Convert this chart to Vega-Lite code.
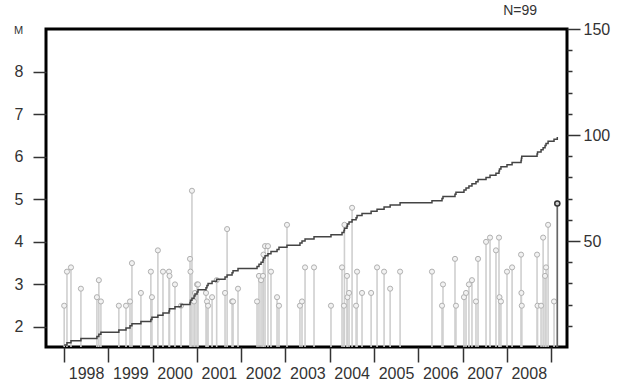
{
  "$schema": "https://vega.github.io/schema/vega-lite/v6.json",
  "width": 521,
  "height": 318,
  "autosize": "none",
  "padding": {"left": 46, "top": 29, "right": 59, "bottom": 41},
  "background": "white",
  "config": {
    "view": {"stroke": "#000", "strokeWidth": 3},
    "font": "Liberation Sans",
    "axis": {"labelFont": "Liberation Sans", "labelFontSize": 16, "labelColor": "#333", "tickColor": "#333", "tickWidth": 1.5, "domain": false, "grid": false, "titleFont": "Liberation Sans"}
  },
  "title": {"text": "N=99", "anchor": "end", "frame": "group", "dx": -30, "offset": 3, "fontSize": 14, "fontWeight": "normal", "font": "Liberation Sans", "color": "#333"},
  "data": {"values": [
    {"date": "1998-01-02", "M": 2.5},
    {"date": "1998-01-25", "M": 3.3},
    {"date": "1998-02-27", "M": 3.4},
    {"date": "1998-05-20", "M": 2.9},
    {"date": "1998-09-29", "M": 2.7},
    {"date": "1998-10-15", "M": 3.1},
    {"date": "1998-11-01", "M": 2.6},
    {"date": "1999-03-29", "M": 2.5},
    {"date": "1999-05-27", "M": 2.5},
    {"date": "1999-06-29", "M": 2.6},
    {"date": "1999-07-15", "M": 3.5},
    {"date": "1999-09-27", "M": 2.8},
    {"date": "1999-12-18", "M": 3.3},
    {"date": "1999-12-27", "M": 2.7},
    {"date": "2000-02-14", "M": 3.8},
    {"date": "2000-03-27", "M": 3.3},
    {"date": "2000-05-16", "M": 3.3},
    {"date": "2000-05-20", "M": 3.2},
    {"date": "2000-07-04", "M": 3.0},
    {"date": "2000-08-23", "M": 2.5},
    {"date": "2000-11-05", "M": 3.6},
    {"date": "2000-11-09", "M": 3.3},
    {"date": "2000-11-21", "M": 5.2},
    {"date": "2000-12-08", "M": 2.6},
    {"date": "2000-12-16", "M": 2.8},
    {"date": "2001-01-02", "M": 3.0},
    {"date": "2001-01-10", "M": 3.0},
    {"date": "2001-03-17", "M": 2.8},
    {"date": "2001-03-25", "M": 2.6},
    {"date": "2001-04-03", "M": 2.5},
    {"date": "2001-05-06", "M": 2.7},
    {"date": "2001-06-13", "M": 3.1},
    {"date": "2001-08-21", "M": 2.8},
    {"date": "2001-09-07", "M": 4.3},
    {"date": "2001-10-18", "M": 2.6},
    {"date": "2001-10-26", "M": 2.6},
    {"date": "2001-12-06", "M": 2.9},
    {"date": "2002-05-12", "M": 2.6},
    {"date": "2002-05-28", "M": 3.2},
    {"date": "2002-06-14", "M": 3.1},
    {"date": "2002-06-30", "M": 3.2},
    {"date": "2002-07-04", "M": 3.7},
    {"date": "2002-07-17", "M": 3.9},
    {"date": "2002-08-10", "M": 3.9},
    {"date": "2002-09-04", "M": 3.3},
    {"date": "2002-10-24", "M": 2.7},
    {"date": "2002-11-09", "M": 2.5},
    {"date": "2003-01-14", "M": 4.4},
    {"date": "2003-05-01", "M": 2.5},
    {"date": "2003-05-18", "M": 2.6},
    {"date": "2003-06-12", "M": 3.4},
    {"date": "2003-08-25", "M": 3.4},
    {"date": "2004-01-12", "M": 2.5},
    {"date": "2004-04-12", "M": 3.4},
    {"date": "2004-04-28", "M": 2.5},
    {"date": "2004-05-02", "M": 4.4},
    {"date": "2004-05-23", "M": 3.2},
    {"date": "2004-05-27", "M": 2.7},
    {"date": "2004-06-09", "M": 2.8},
    {"date": "2004-07-04", "M": 4.8},
    {"date": "2004-08-06", "M": 2.5},
    {"date": "2004-08-14", "M": 3.3},
    {"date": "2004-09-24", "M": 2.8},
    {"date": "2004-12-08", "M": 2.8},
    {"date": "2005-01-26", "M": 3.4},
    {"date": "2005-03-25", "M": 3.3},
    {"date": "2005-05-14", "M": 2.9},
    {"date": "2005-08-04", "M": 3.3},
    {"date": "2006-04-24", "M": 3.3},
    {"date": "2006-07-16", "M": 2.5},
    {"date": "2006-07-24", "M": 3.0},
    {"date": "2006-10-31", "M": 3.6},
    {"date": "2006-11-08", "M": 2.5},
    {"date": "2007-01-13", "M": 2.7},
    {"date": "2007-01-30", "M": 2.8},
    {"date": "2007-02-23", "M": 3.0},
    {"date": "2007-03-20", "M": 3.1},
    {"date": "2007-04-22", "M": 2.6},
    {"date": "2007-05-09", "M": 3.6},
    {"date": "2007-07-14", "M": 4.0},
    {"date": "2007-08-16", "M": 4.1},
    {"date": "2007-10-04", "M": 3.8},
    {"date": "2007-10-29", "M": 4.1},
    {"date": "2007-11-02", "M": 2.7},
    {"date": "2007-11-14", "M": 2.6},
    {"date": "2008-01-03", "M": 3.3},
    {"date": "2008-02-14", "M": 3.4},
    {"date": "2008-04-28", "M": 3.7},
    {"date": "2008-05-01", "M": 2.8},
    {"date": "2008-05-04", "M": 2.5},
    {"date": "2008-09-07", "M": 3.7},
    {"date": "2008-09-11", "M": 2.5},
    {"date": "2008-10-10", "M": 2.5},
    {"date": "2008-10-27", "M": 4.1},
    {"date": "2008-11-12", "M": 3.2},
    {"date": "2008-11-20", "M": 3.4},
    {"date": "2008-12-07", "M": 4.4},
    {"date": "2009-01-25", "M": 2.6},
    {"date": "2009-02-21", "M": 4.9}
  ]},
  "encoding": {
    "x": {
      "field": "date", "type": "temporal",
      "scale": {"domain": [{"year": 1997, "month": 8, "date": 5}, {"year": 2009, "month": 5, "date": 12}]},
      "axis": {
        "title": null, "tickCount": {"interval": "year", "step": 1}, "format": "%Y",
        "labelOffset": 22, "labelExpr": "year(datum.value) > 2008 ? '' : datum.label",
        "tickSize": 15, "labelPadding": 3, "labelOverlap": false, "labelFlush": false
      }
    }
  },
  "layer": [
    {
      "encoding": {
        "y": {"field": "M", "type": "quantitative",
          "scale": {"domain": [1.53, 9], "nice": false, "zero": false},
          "axis": {"values": [2, 3, 4, 5, 6, 7, 8], "tickSize": 13, "labelPadding": 10,
            "title": "M", "titleAngle": 0, "titleX": -28, "titleY": 1, "titleFontSize": 11,
            "titleFontWeight": "normal", "titleAlign": "center", "titleBaseline": "middle", "titleColor": "#333"}}
      },
      "layer": [
        {
          "mark": {"type": "rule", "color": "#cfcfcf", "strokeWidth": 1.6},
          "encoding": {"y2": {"datum": 1.53}}
        },
        {
          "mark": {"type": "point", "shape": "circle", "filled": true, "fill": "#f2f2f2", "stroke": "#b0b0b0", "strokeWidth": 1, "size": 26, "opacity": 1},
          "encoding": {}
        },
        {
          "transform": [{"filter": "datum.M == 4.9"}],
          "mark": {"type": "rule", "color": "#666", "strokeWidth": 1.6},
          "encoding": {"y2": {"datum": 1.53}}
        },
        {
          "transform": [{"filter": "datum.M == 4.9"}],
          "mark": {"type": "point", "shape": "circle", "filled": true, "fill": "#ccc", "stroke": "#333", "strokeWidth": 1.5, "size": 26, "opacity": 1},
          "encoding": {}
        }
      ]
    },
    {
      "transform": [{"window": [{"op": "count", "as": "n"}], "sort": [{"field": "date"}]}],
      "mark": {"type": "line", "interpolate": "step-after", "color": "#444", "strokeWidth": 1.5},
      "encoding": {
        "y": {"field": "n", "type": "quantitative",
          "scale": {"domain": [0, 150], "nice": false},
          "axis": {"orient": "right", "title": null,
            "values": [0, 10, 20, 30, 40, 50, 60, 70, 80, 90, 100, 110, 120, 130, 140, 150],
            "tickSize": {"condition": {"test": "datum.value % 50 === 0", "value": 13}, "value": 5},
            "tickOpacity": {"condition": {"test": "datum.value === 0", "value": 0}, "value": 1},
            "labelExpr": "datum.value % 50 === 0 && datum.value > 0 ? datum.label : ''",
            "labelPadding": 3}
        }
      }
    }
  ],
  "resolve": {"scale": {"y": "independent"}, "axis": {"y": "independent"}}
}
